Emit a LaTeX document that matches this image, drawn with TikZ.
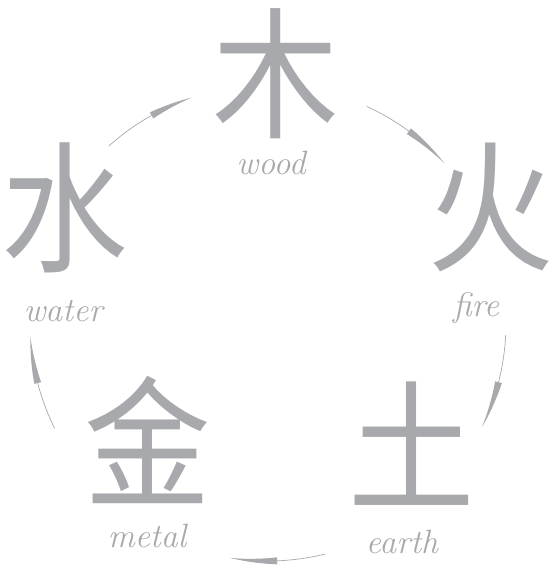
\documentclass[tikz,border=0pt]{standalone}
\usepackage{fontspec}
\newfontfamily\cjk{Noto Sans CJK SC}
\usetikzlibrary{positioning}
\definecolor{inkg}{RGB}{167,169,172}

\begin{document}
\begin{tikzpicture}[x=0.025cm, y=0.025cm,
  glyph/.style={inkg, font=\cjk\fontsize{90}{90}\selectfont, inner sep=0pt, yscale=1.12},
  elem/.style={inkg, font=\itshape\fontsize{24}{26}\selectfont, anchor=base, inner sep=0pt}]
\useasboundingbox (-268,-246) rectangle (286,323);

% characters, centre of the ring at the origin
\node[glyph] (wood)  at (8,249)     {木};
\node[glyph] (fire)  at (223,116)   {火};
\node[glyph] (earth) at (144,-121)  {土};
\node[glyph] (metal) at (-120,-117) {金};
\node[glyph] (water) at (-203,115)  {水};

% names under the characters
\node[elem] (woodlbl)  at (3,148)     {wood};
\node[elem] (firelbl)  at (208,6)     {fire};
\node[elem] (earthlbl) at (134,-230)  {earth};
\node[elem] (metallbl) at (-121,-224) {metal};
\node[elem] (waterlbl) at (-205,1)    {water};

% ring arrows: start / wedge / tip angle
\def\rr{238}
\foreach \sa/\fa/\ea in {131.9/119.3/108.7, 65.5/53.7/42.1, -2.9/-14.4/-26,
                         -76.1/-87.8/-99.2, 206.3/194.6/183.4} {
  \draw[inkg, line width=0.5pt] (\sa:\rr) arc[start angle=\sa, end angle=\fa, radius=\rr];
  \fill[inkg] plot[domain=\fa:\ea, samples=15] (\x:{\rr+3.5*(\x-\ea)/(\fa-\ea)})
    -- plot[domain=\ea:\fa, samples=15] (\x:{\rr-3.5*(\x-\ea)/(\fa-\ea)}) -- cycle;
}
\end{tikzpicture}
\end{document}
